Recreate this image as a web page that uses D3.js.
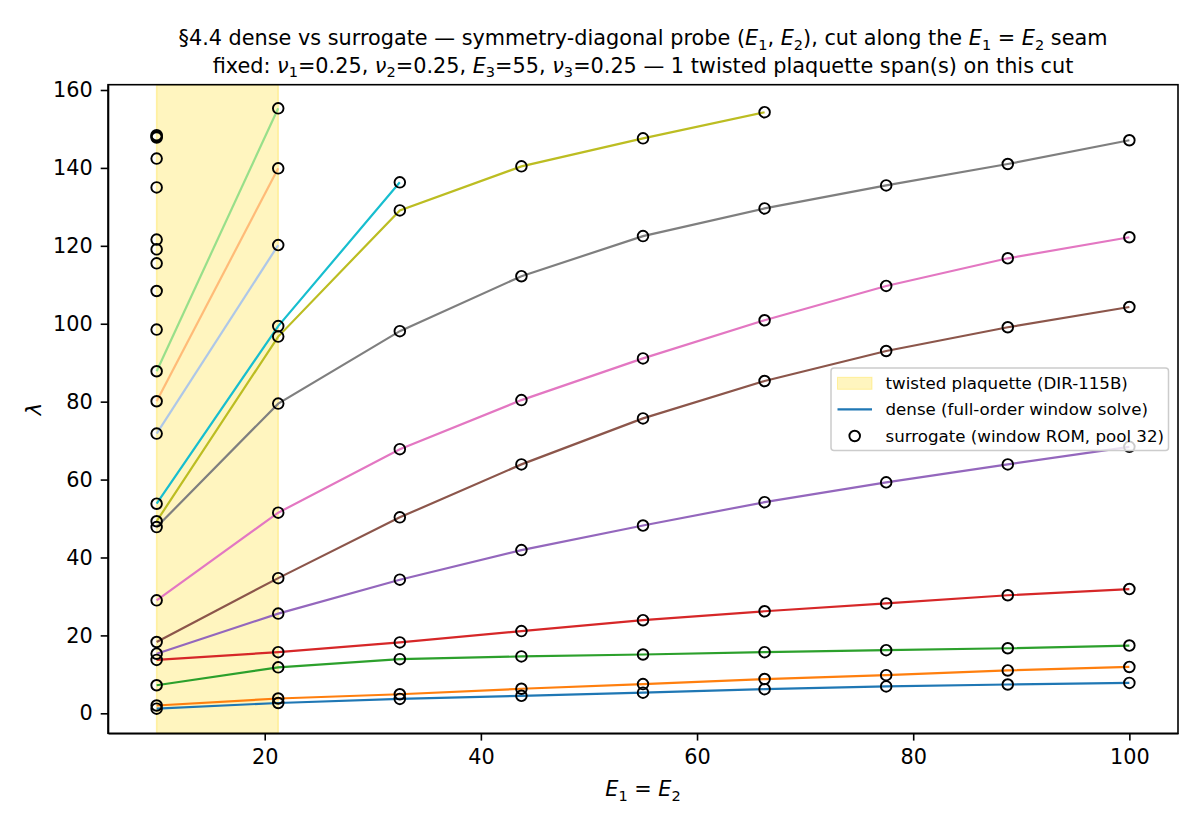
<!DOCTYPE html>
<html>
<head>
<meta charset="utf-8">
<script src="https://cdn.jsdelivr.net/npm/d3@7"></script>
<style>
body { margin: 0; background: #fff; }
svg { font-family: "DejaVu Sans", sans-serif; }
.domain, .tick line { stroke: #000; stroke-width: 1.6; }
</style>
</head>
<body>
<div id="chart"></div>
<script>
const ctx = {
    W: 1200,
    H: 825,
    LEFT: 108,
    RIGHT: 1178,
    TOP: 84.7,
    BOTTOM: 733.3,
    FONT: 20.8,
    MARK_R: 5.3,
};

// E1 = E2 sample positions along the cut
const eValues = [10, 21.25, 32.5, 43.75, 55, 66.25, 77.5, 88.75, 100];

// dense eigenvalue branches (lambda), one array per mode, shorter ones stop early
const mode1 = [1.2, 2.65, 3.7, 4.5, 5.3, 6.2, 6.9, 7.4, 7.8];
const mode2 = [2.0, 3.8, 4.9, 6.3, 7.5, 8.8, 9.8, 11.0, 11.9];
const mode3 = [7.2, 11.8, 13.9, 14.6, 15.1, 15.7, 16.2, 16.7, 17.4];
const mode4 = [13.7, 15.7, 18.2, 21.1, 23.9, 26.2, 28.2, 30.3, 31.9];
const mode5 = [15.3, 25.6, 34.3, 41.9, 48.2, 54.2, 59.3, 63.9, 68.4];
const mode6 = [18.3, 34.7, 50.3, 63.9, 75.7, 85.3, 93.0, 99.1, 104.3];
const mode7 = [29.0, 51.5, 67.8, 80.4, 91.1, 100.9, 109.7, 116.8, 122.2];
const mode8 = [47.8, 79.5, 98.1, 112.2, 122.5, 129.6, 135.5, 141.0, 147.1];
const mode9 = [49.3, 96.7, 129.1, 140.4, 147.6, 154.3];
const mode10 = [53.8, 99.4, 136.3];
const mode11 = [71.8, 120.2];
const mode12 = [80.1, 139.9];
const mode13 = [87.8, 155.3];
const modes = [mode1, mode2, mode3, mode4, mode5, mode6, mode7, mode8, mode9, mode10, mode11, mode12, mode13];

// surrogate points with no dense partner (all at E = 10)
const extraE = [10, 10, 10, 10, 10, 10, 10, 10, 10, 10];
const extraLambda = [98.5, 108.4, 115.5, 119.1, 121.6, 135.0, 142.4, 147.8, 148.1, 148.4];

// twisted plaquette span
const spanE = [10, 21.25];

const modeColors = ["#1f77b4", "#ff7f0e", "#2ca02c", "#d62728", "#9467bd", "#8c564b",
                    "#e377c2", "#7f7f7f", "#bcbd22", "#17becf", "#aec7e8", "#ffbb78", "#98df8a"];

const xTicks = [20, 40, 60, 80, 100];
const yTicks = [0, 20, 40, 60, 80, 100, 120, 140, 160];

const titleLines = ["§4.4 dense vs surrogate — symmetry-diagonal probe ($E_1$, $E_2$), cut along the $E_1 = E_2$ seam",
                    "fixed: $ν_1$=0.25, $ν_2$=0.25, $E_3$=55, $ν_3$=0.25 — 1 twisted plaquette span(s) on this cut"];
const legendLabels = ["twisted plaquette (DIR-115B)", "dense (full-order window solve)", "surrogate (window ROM, pool 32)"];

// write a string with $..$ math bits (italic letters, _x subscripts) into a text element
function mathText(textEl, str, size){
    let pendingDy = 0;
    function add(txt){
        if (txt == "") return null;
        let ts = textEl.append("tspan").attr("font-size", size).text(txt);
        if (pendingDy != 0){
            ts.attr("dy", pendingDy);
            pendingDy = 0;
        }
        return ts;
    }
    let parts = str.split("$");
    parts.forEach(function(part, i){
        if (i % 2 == 0){
            add(part);
            return;
        }
        for (let k = 0; k < part.length; k++){
            let ch = part[k];
            if (ch == "_"){
                add(part[k + 1]).attr("dy", size * 0.22)
                                .attr("font-size", size * 0.7);
                pendingDy = -size * 0.22;
                k++;
            } else if (/[A-Za-zν]/.test(ch)){
                add(ch).attr("font-style", "italic");
            } else {
                add(ch);
            }
        }
    });
}

function makeChart(){
    let svgEl = d3.select("svg");

    ctx.x = d3.scaleLinear().domain([5.5, 104.5]).range([ctx.LEFT, ctx.RIGHT]);
    ctx.y = d3.scaleLinear().domain([-5.13, 161.36]).range([ctx.BOTTOM, ctx.TOP]);

    // plaquette band
    svgEl.append("rect")
         .attr("x", ctx.x(spanE[0]))
         .attr("y", ctx.TOP)
         .attr("width", ctx.x(spanE[1]) - ctx.x(spanE[0]))
         .attr("height", ctx.BOTTOM - ctx.TOP)
         .attr("fill", "#ffd700")
         .attr("fill-opacity", 0.25)
         .attr("stroke", "#ffd700")
         .attr("stroke-opacity", 0.3)
         .attr("stroke-width", 1.5);

    // dense lines
    let line = d3.line()
                 .x((d, i) => ctx.x(eValues[i]))
                 .y((d) => ctx.y(d));
    svgEl.append("g")
         .attr("id", "dense")
         .selectAll("path")
         .data(modes)
         .enter()
         .append("path")
         .attr("d", line)
         .attr("fill", "none")
         .attr("stroke", (d, i) => modeColors[i])
         .attr("stroke-width", 2.2);

    // surrogate circles
    let pts = [];
    modes.forEach(function(m){
        m.forEach(function(v, i){ pts.push([eValues[i], v]); });
    });
    extraLambda.forEach(function(v, i){ pts.push([extraE[i], v]); });
    svgEl.append("g")
         .attr("id", "surrogate")
         .selectAll("circle")
         .data(pts)
         .enter()
         .append("circle")
         .attr("cx", (d) => ctx.x(d[0]))
         .attr("cy", (d) => ctx.y(d[1]))
         .attr("r", ctx.MARK_R)
         .attr("fill", "none")
         .attr("stroke", "#000")
         .attr("stroke-width", 1.9);

    // axes
    svgEl.append("g")
         .attr("transform", "translate(0," + ctx.BOTTOM + ")")
         .call(d3.axisBottom(ctx.x).tickValues(xTicks).tickSize(7.3).tickPadding(9).tickSizeOuter(0));
    svgEl.append("g")
         .attr("transform", "translate(" + ctx.LEFT + ",0)")
         .call(d3.axisLeft(ctx.y).tickValues(yTicks).tickSize(7.3).tickPadding(8).tickSizeOuter(0));
    svgEl.append("rect")
         .attr("x", ctx.LEFT)
         .attr("y", ctx.TOP)
         .attr("width", ctx.RIGHT - ctx.LEFT)
         .attr("height", ctx.BOTTOM - ctx.TOP)
         .attr("fill", "none")
         .attr("stroke", "#000")
         .attr("stroke-width", 1.6);
    svgEl.selectAll(".tick text")
         .attr("font-family", "DejaVu Sans")
         .attr("font-size", ctx.FONT)
         .attr("fill", "#000");

    // labels
    let cx = (ctx.LEFT + ctx.RIGHT) / 2;
    titleLines.forEach(function(t, i){
        let el = svgEl.append("text")
                      .attr("x", cx)
                      .attr("y", 45 + i * 27.7)
                      .attr("text-anchor", "middle")
                      .attr("font-size", ctx.FONT);
        mathText(el, t, ctx.FONT);
    });
    let xl = svgEl.append("text")
                  .attr("x", cx)
                  .attr("y", 796)
                  .attr("text-anchor", "middle")
                  .attr("font-size", ctx.FONT);
    mathText(xl, "$E_1$ = $E_2$", ctx.FONT);
    svgEl.append("text")
         .attr("transform", "translate(41," + ((ctx.TOP + ctx.BOTTOM) / 2) + ") rotate(-90)")
         .attr("text-anchor", "middle")
         .attr("font-size", ctx.FONT)
         .attr("font-style", "italic")
         .text("λ");

    // legend
    let lg = svgEl.append("g").attr("transform", "translate(831,368)");
    lg.append("rect")
      .attr("width", 337.5)
      .attr("height", 82.5)
      .attr("rx", 3)
      .attr("fill", "#fff")
      .attr("fill-opacity", 0.8)
      .attr("stroke", "#cccccc")
      .attr("stroke-width", 1.5);
    lg.append("rect")
      .attr("x", 6.5).attr("y", 9.3)
      .attr("width", 34.5).attr("height", 12)
      .attr("fill", "#ffd700").attr("fill-opacity", 0.25)
      .attr("stroke", "#ffd700").attr("stroke-opacity", 0.3);
    lg.append("line")
      .attr("x1", 6.5).attr("x2", 41)
      .attr("y1", 41.3).attr("y2", 41.3)
      .attr("stroke", modeColors[0]).attr("stroke-width", 2.2);
    lg.append("circle")
      .attr("cx", 23.7).attr("cy", 68)
      .attr("r", ctx.MARK_R)
      .attr("fill", "none").attr("stroke", "#000").attr("stroke-width", 1.9);
    legendLabels.forEach(function(t, i){
        lg.append("text")
          .attr("x", 54.5)
          .attr("y", 20.7 + i * 26.7)
          .attr("font-size", 16.67)
          .text(t);
    });
}

function createViz(){
    d3.select("#chart").append("svg")
                       .attr("width", ctx.W)
                       .attr("height", ctx.H);
    makeChart();
}

createViz();
</script>
</body>
</html>
